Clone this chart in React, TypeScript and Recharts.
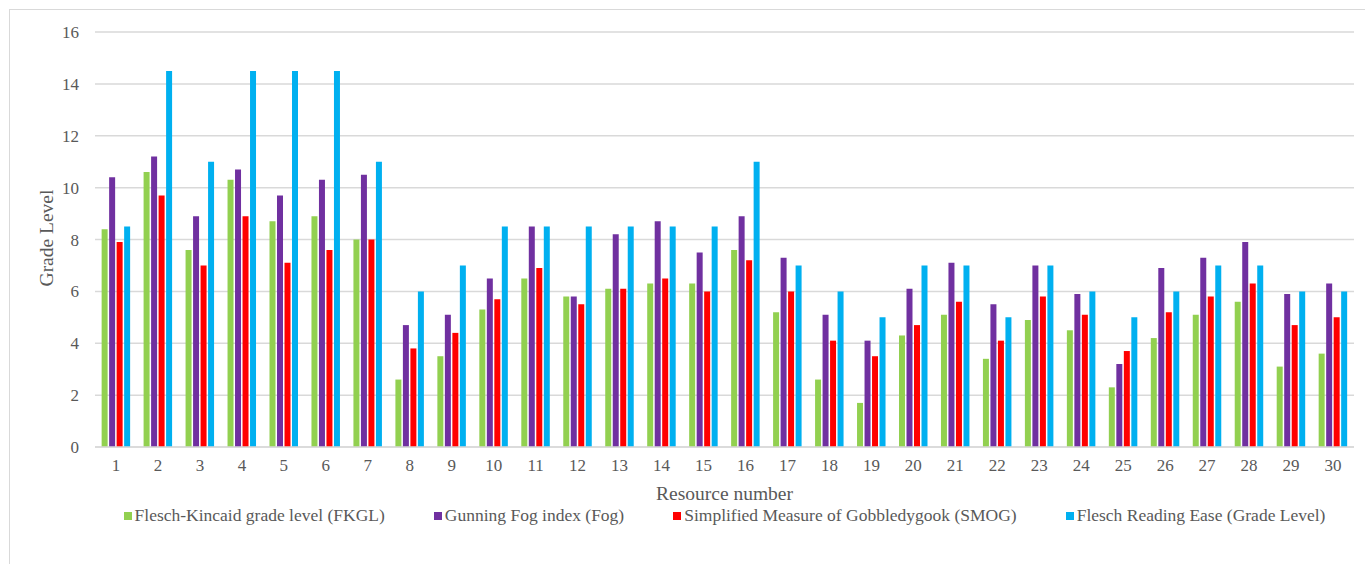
import React from "react";
import { BarChart, Bar, XAxis, YAxis, CartesianGrid, Legend } from "recharts";

const resources = Array.from({ length: 30 }, (_, i) => String(i + 1));

const fkgl = [8.4, 10.6, 7.6, 10.3, 8.7, 8.9, 8.0, 2.6, 3.5, 5.3, 6.5, 5.8, 6.1, 6.3, 6.3, 7.6, 5.2, 2.6, 1.7, 4.3, 5.1, 3.4, 4.9, 4.5, 2.3, 4.2, 5.1, 5.6, 3.1, 3.6];
const fog = [10.4, 11.2, 8.9, 10.7, 9.7, 10.3, 10.5, 4.7, 5.1, 6.5, 8.5, 5.8, 8.2, 8.7, 7.5, 8.9, 7.3, 5.1, 4.1, 6.1, 7.1, 5.5, 7.0, 5.9, 3.2, 6.9, 7.3, 7.9, 5.9, 6.3];
const smog = [7.9, 9.7, 7.0, 8.9, 7.1, 7.6, 8.0, 3.8, 4.4, 5.7, 6.9, 5.5, 6.1, 6.5, 6.0, 7.2, 6.0, 4.1, 3.5, 4.7, 5.6, 4.1, 5.8, 5.1, 3.7, 5.2, 5.8, 6.3, 4.7, 5.0];
const fre = [8.5, 14.5, 11.0, 14.5, 14.5, 14.5, 11.0, 6.0, 7.0, 8.5, 8.5, 8.5, 8.5, 8.5, 8.5, 11.0, 7.0, 6.0, 5.0, 7.0, 7.0, 5.0, 7.0, 6.0, 5.0, 6.0, 7.0, 7.0, 6.0, 6.0];

const yTicks = [0, 2, 4, 6, 8, 10, 12, 14, 16];

const series = [
  { key: "fkgl", name: "Flesch-Kincaid grade level (FKGL)", color: "#92D050" },
  { key: "fog", name: "Gunning Fog index (Fog)", color: "#7030A0" },
  { key: "smog", name: "Simplified Measure of Gobbledygook (SMOG)", color: "#FF0000" },
  { key: "fre", name: "Flesch Reading Ease (Grade Level)", color: "#00B0F0" },
];

const data = resources.map((r, i) => ({
  resource: r,
  fkgl: fkgl[i],
  fog: fog[i],
  smog: smog[i],
  fre: fre[i],
}));

const font = "'Liberation Serif', 'Times New Roman', serif";
const textColor = "#595959";

function LegendRow() {
  return (
    <div style={{ display: "flex", justifyContent: "center", gap: 49, fontFamily: font, fontSize: 17.5, color: textColor }}>
      {series.map((s) => (
        <div key={s.key} style={{ display: "flex", alignItems: "center" }}>
          <span style={{ width: 8, height: 8, background: s.color, marginRight: 3, display: "inline-block" }} />
          <span>{s.name}</span>
        </div>
      ))}
    </div>
  );
}

export default function App() {
  return (
    <div style={{ position: "fixed", left: 0, top: 0, width: 1365, height: 564, overflow: "hidden", background: "#fff" }}>
      <div style={{ position: "absolute", left: 9, top: 9, width: 1400, height: 600, border: "1.5px solid #d9d9d9" }} />
      <BarChart
        width={1365}
        height={564}
        data={data}
        margin={{ top: 32, right: 11, left: 35, bottom: 0 }}
        barCategoryGap="15.8%"
        barGap={1.5}
      >
        <CartesianGrid vertical={false} stroke="#d9d9d9" strokeWidth={1.5} />
        <XAxis
          dataKey="resource"
          height={117}
          axisLine={{ stroke: "#d9d9d9", strokeWidth: 1.5 }}
          tickLine={false}
          tickSize={0}
          tickMargin={12}
          interval={0}
          tick={{ fill: textColor, fontSize: 17, fontFamily: font }}
          label={{
            content: () => (
              <text x={724.5} y={500} textAnchor="middle" fill={textColor} fontSize={19.5} fontFamily={font}>
                Resource number
              </text>
            ),
          }}
        />
        <YAxis
          width={60}
          domain={[0, 16]}
          ticks={yTicks}
          axisLine={false}
          tickLine={false}
          tickSize={0}
          tickMargin={16}
          tick={{ fill: textColor, fontSize: 17, fontFamily: font }}
          label={{
            content: () => (
              <text
                x={46}
                y={238}
                transform="rotate(-90 46 238)"
                textAnchor="middle"
                dominantBaseline="central"
                fill={textColor}
                fontSize={19.5}
                fontFamily={font}
              >
                Grade Level
              </text>
            ),
          }}
        />
        <Legend
          layout="horizontal"
          verticalAlign="middle"
          align="center"
          wrapperStyle={{ top: 505, left: 95, width: 1259 }}
          content={() => <LegendRow />}
        />
        {series.map((s) => (
          <Bar key={s.key} dataKey={s.key} name={s.name} fill={s.color} isAnimationActive={false} />
        ))}
      </BarChart>
    </div>
  );
}
